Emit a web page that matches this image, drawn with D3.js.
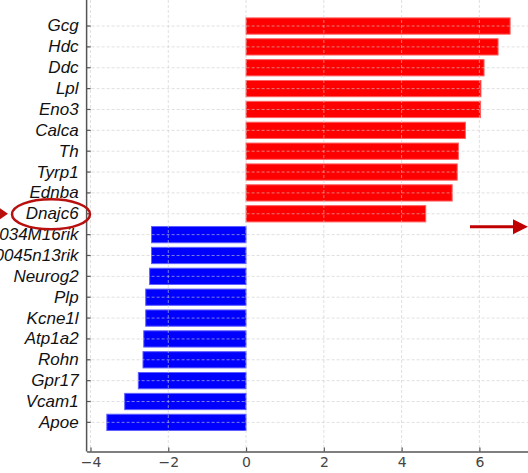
<!DOCTYPE html>
<html>
<head>
<meta charset="utf-8">
<script src="https://cdn.jsdelivr.net/npm/d3@7"></script>
<style>
  html, body { margin: 0; padding: 0; background: #fff; }
  svg { display: block; }
</style>
</head>
<body>
<svg id="chart" width="528" height="473"></svg>
<script>
// Genes, top to bottom
const genes = [
  "Gcg", "Hdc", "Ddc", "Lpl", "Eno3", "Calca", "Th", "Tyrp1", "Ednba", "Dnajc6",
  "A930034M16rik", "A330045n13rik", "Neurog2", "Plp", "Kcne1l", "Atp1a2", "Rohn", "Gpr17", "Vcam1", "Apoe"
];
// Signed scores (positive = up, negative = down)
const scores = [
  6.79, 6.48, 6.12, 6.04, 6.03, 5.64, 5.46, 5.43, 5.30, 4.62,
  -2.43, -2.43, -2.48, -2.58, -2.58, -2.63, -2.65, -2.77, -3.12, -3.58
];
const xTicks = [-4, -2, 0, 2, 4, 6];
const highlightGene = "Dnajc6";

const svg = d3.select("#chart");
const plotLeft = 86.6, plotRight = 528, plotTop = 0, plotBottom = 451.5;

const x = d3.scaleLinear().domain([-4.1, 7.25]).range([plotLeft, plotRight]);
const y = d3.scaleBand().domain(genes).range([15.6, 432.8])
  .paddingInner(0.22).paddingOuter(0.11);

const rows = genes.map((g, i) => ({ gene: g, value: scores[i] }));

// Bars
svg.append("g").selectAll("rect").data(rows).join("rect")
  .attr("x", d => x(Math.min(0, d.value)))
  .attr("y", d => y(d.gene))
  .attr("width", d => Math.abs(x(d.value) - x(0)))
  .attr("height", y.bandwidth())
  .attr("fill", d => d.value >= 0 ? "#ff0000" : "#0000ff")
  .attr("stroke", d => d.value >= 0 ? "#ff6060" : "#6060ff")
  .attr("stroke-width", 1);

// Grid, dashed, over the bars
const grid = svg.append("g")
  .attr("stroke", "#cccccc")
  .attr("stroke-opacity", 0.6)
  .attr("stroke-width", 1)
  .attr("stroke-dasharray", "3,2");
grid.selectAll("line.h").data(genes).join("line")
  .attr("class", "h")
  .attr("x1", plotLeft).attr("x2", plotRight)
  .attr("y1", d => y(d) + y.bandwidth() / 2)
  .attr("y2", d => y(d) + y.bandwidth() / 2);
grid.selectAll("line.v").data(xTicks).join("line")
  .attr("class", "v")
  .attr("x1", d => x(d)).attr("x2", d => x(d))
  .attr("y1", plotTop).attr("y2", plotBottom);

// Bottom axis
const xAxis = svg.append("g")
  .attr("transform", `translate(0,${plotBottom})`)
  .call(d3.axisBottom(x).tickValues(xTicks).tickSizeInner(-4).tickSizeOuter(0).tickPadding(6));
xAxis.select(".domain").attr("stroke", "#555").attr("stroke-width", 1.5);
xAxis.selectAll(".tick line").attr("stroke", "#555").attr("stroke-width", 1.2);
xAxis.selectAll(".tick text")
  .attr("font-family", "DejaVu Sans, sans-serif")
  .attr("font-size", 14)
  .attr("fill", "#444");

// Left axis
const yAxis = svg.append("g")
  .attr("transform", `translate(${plotLeft},0)`)
  .call(d3.axisLeft(y).tickSizeInner(-4).tickSizeOuter(0).tickPadding(8));
yAxis.select(".domain").attr("d", `M0,${plotTop}V${plotBottom}`)
  .attr("stroke", "#555").attr("stroke-width", 1.5);
yAxis.selectAll(".tick line").attr("stroke", "#555").attr("stroke-width", 1.2);
yAxis.selectAll(".tick text")
  .attr("font-family", "Liberation Sans, Arial, sans-serif")
  .attr("font-style", "italic")
  .attr("font-size", 17)
  .attr("fill", "#111");

// Highlight for the selected gene
const hy = y(highlightGene) + y.bandwidth() / 2;
const mark = "#b80f0f";
svg.append("ellipse")
  .attr("cx", 51).attr("cy", hy + 0.5)
  .attr("rx", 39).attr("ry", 15)
  .attr("fill", "none").attr("stroke", mark).attr("stroke-width", 2.5);
svg.append("path")
  .attr("d", `M0,${hy - 5.5}L8,${hy}L0,${hy + 5.5}Z`)
  .attr("fill", mark);

// Arrow pointing right, beside the highlighted row
const ay = y(genes[10]) + y.bandwidth() / 2 - 8;
svg.append("line")
  .attr("x1", 470).attr("x2", 514).attr("y1", ay).attr("y2", ay)
  .attr("stroke", "#c00000").attr("stroke-width", 3);
svg.append("path")
  .attr("d", `M513,${ay - 7.5}L528,${ay}L513,${ay + 7.5}Z`)
  .attr("fill", "#c00000");
</script>
</body>
</html>
